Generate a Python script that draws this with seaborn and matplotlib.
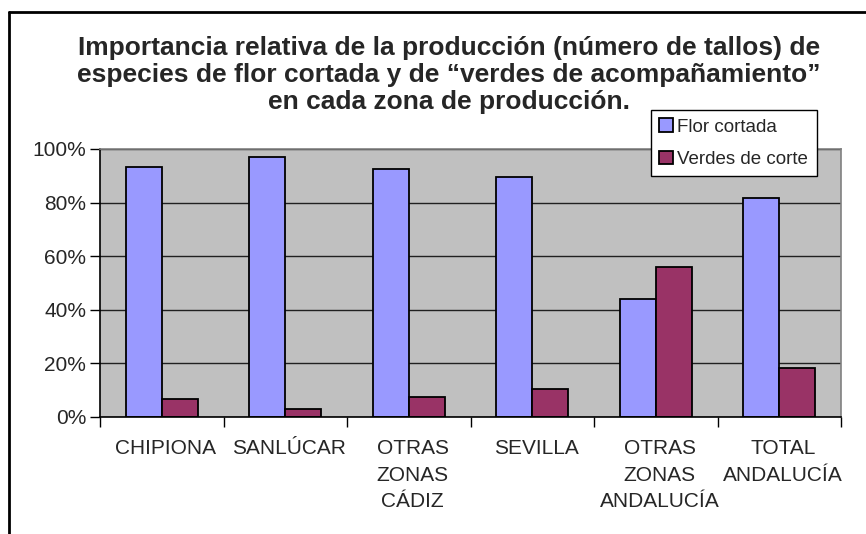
import matplotlib
matplotlib.use("Agg")
import matplotlib.pyplot as plt
import matplotlib.transforms as mtransforms
import seaborn as sns
import pandas as pd
from matplotlib.ticker import FixedLocator, PercentFormatter
from matplotlib.lines import Line2D

zonas = ["CHIPIONA", "SANLÚCAR", "OTRAS\nZONAS\nCÁDIZ", "SEVILLA",
         "OTRAS\nZONAS\nANDALUCÍA", "TOTAL\nANDALUCÍA"]
flor_cortada = [93.2, 97.0, 92.5, 89.4, 43.9, 81.9]
verdes_corte = [6.8, 3.0, 7.5, 10.6, 56.1, 18.1]
series = ["Flor cortada", "Verdes de corte"]
yticks = [0, 20, 40, 60, 80, 100]

df = pd.DataFrame({
    "zona": zonas * 2,
    "valor": flor_cortada + verdes_corte,
    "serie": [series[0]] * len(zonas) + [series[1]] * len(zonas),
})

sns.set_theme(style="white")
plt.rcParams["font.family"] = ["Liberation Sans", "DejaVu Sans"]

fig = plt.figure(figsize=(8.66, 5.34), dpi=100)
ax = fig.add_axes([100 / 866, 1 - 417 / 534, 741 / 866, 268 / 534])

sns.barplot(data=df, x="zona", y="valor", hue="serie", order=zonas,
            hue_order=series, palette=["#9999FF", "#993366"],
            width=0.58, edgecolor="black", linewidth=1.3, ax=ax,
            saturation=1, legend=True)

ax.set_facecolor("#C0C0C0")
ax.set_xlim(-0.5, len(zonas) - 0.5)
ax.set_ylim(0, 100)
ax.set_xlabel("")
ax.set_ylabel("")

ax.yaxis.set_major_locator(FixedLocator(yticks))
ax.yaxis.set_major_formatter(PercentFormatter(decimals=0))
ax.grid(axis="y", color="#202020", linewidth=1.0)
ax.set_axisbelow(True)

ax.set_xticks(range(len(zonas)))
ax.set_xticklabels(zonas, fontsize=15, linespacing=1.5, va="top")
ax.set_xticks([i - 0.5 for i in range(len(zonas) + 1)], minor=True)
ax.tick_params(axis="x", which="major", length=0, pad=16)
ax.tick_params(axis="x", which="minor", length=7, width=1, color="black",
               direction="out", bottom=True)
ax.tick_params(axis="y", length=7, width=1, color="black", direction="out",
               left=True, labelsize=15, pad=3)
shift = mtransforms.ScaledTranslation(4 / 100, 0, fig.dpi_scale_trans)
for lbl in ax.get_xticklabels():
    lbl.set_transform(lbl.get_transform() + shift)

for side in ["top", "right"]:
    ax.spines[side].set_color("#808080")
    ax.spines[side].set_linewidth(1.2)
for side in ["left", "bottom"]:
    ax.spines[side].set_color("black")
    ax.spines[side].set_linewidth(1.2)

handles, labels = ax.get_legend_handles_labels()
leg = ax.legend(handles, labels, loc="upper left",
                bbox_to_anchor=(651 / 866, 1 - 110 / 534),
                bbox_transform=fig.transFigure, fontsize=13.5,
                frameon=True, fancybox=False, shadow=False,
                handlelength=0.7, handleheight=0.7, handletextpad=0.25,
                borderpad=0.45, labelspacing=0.8, borderaxespad=0)
leg.get_frame().set_edgecolor("black")
leg.get_frame().set_linewidth(1.0)
leg.get_frame().set_facecolor("white")
leg.get_frame().set_alpha(1)
leg.set_zorder(10)

fig.text(449 / 866, 1 - 36 / 534,
         "Importancia relativa de la producción (número de tallos) de\n"
         "especies de flor cortada y de “verdes de acompañamiento”\n"
         "en cada zona de producción.",
         ha="center", va="top", fontsize=19, fontweight="bold",
         linespacing=1.17)

# outer chart border (left and top visible)
fig.add_artist(Line2D([9 / 866, 9 / 866], [0, 1 - 12 / 534],
                      transform=fig.transFigure, color="black", linewidth=2))
fig.add_artist(Line2D([9 / 866, 1], [1 - 12 / 534, 1 - 12 / 534],
                      transform=fig.transFigure, color="black", linewidth=2))

fig.savefig("out.png", dpi=100, facecolor="white")
